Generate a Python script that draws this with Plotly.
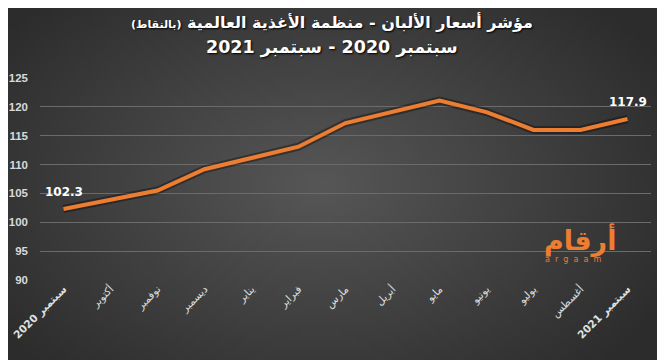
import base64, struct, zlib
import numpy as np
import plotly.graph_objects as go

months = ["<b>سبتمبر 2020</b>", "أكتوبر", "نوفمبر", "ديسمبر", "يناير", "فبراير", "مارس",
          "أبريل", "مايو", "يونيو", "يوليو", "أغسطس", "<b>سبتمبر 2021</b>"]
values = [102.3, 103.9, 105.5, 109.2, 111.1, 113.1, 117.2, 119.1, 121.1, 119.1, 116.0, 116.0, 117.9]
labeled = [0, 12]
y_ticks = [90, 95, 100, 105, 110, 115, 120, 125]

W, H = 665, 360
OFF = 8  # page offset of the figure inside the browser window
ML, MT = 40 - OFF, 78 - OFF
MR, MB = W - (651 - OFF), H - (280 - OFF)
PW, PH = W - ML - MR, H - MT - MB


def px_x(sx):
    return (sx - OFF - ML) / PW


def px_y(sy):
    return 1 - (sy - OFF - MT) / PH


def make_bg(w=133, h=72):
    ys, xs = np.mgrid[0:h, 0:w]
    px = (xs + 0.5) * W / w + OFF
    py = (ys + 0.5) * H / h + OFF
    t = np.sqrt(((px - 320) / 400) ** 2 + ((py - 185) / 260) ** 2)
    t = np.clip(t, 0, 1)
    c = (0x57 + (0x2c - 0x57) * t).astype(np.uint8)
    raw = b"".join(b"\x00" + bytes(np.repeat(row, 3)) for row in c)

    def chunk(tag, data):
        return struct.pack(">I", len(data)) + tag + data + struct.pack(">I", zlib.crc32(tag + data) & 0xffffffff)

    png = b"\x89PNG\r\n\x1a\n" + chunk(b"IHDR", struct.pack(">IIBBBBB", w, h, 8, 2, 0, 0, 0)) \
        + chunk(b"IDAT", zlib.compress(raw, 9)) + chunk(b"IEND", b"")
    return "data:image/png;base64," + base64.b64encode(png).decode()


x = list(range(len(months)))
fig = go.Figure()
fig.add_trace(go.Scatter(x=x, y=values, mode="lines", line=dict(color="rgba(0,0,0,0.35)", width=8),
                         hoverinfo="skip", showlegend=False, cliponaxis=False))
fig.add_trace(go.Scatter(x=x, y=values, mode="lines",
                         line=dict(color="#ED7D31", width=4), showlegend=False, cliponaxis=False))

annotations = [
    dict(text="مؤشر أسعار الألبان - منظمة الأغذية العالمية <span style='font-size:11px'>(بالنقاط)</span>",
         xref="paper", yref="paper", x=px_x(332), y=px_y(22), showarrow=False,
         xanchor="center", yanchor="middle",
         font=dict(family="DejaVu Sans", size=16, color="white", weight="bold",
                   shadow="1px 1px 2px black")),
    dict(text="سبتمبر 2020 - سبتمبر 2021",
         xref="paper", yref="paper", x=px_x(332), y=px_y(47), showarrow=False,
         xanchor="center", yanchor="middle",
         font=dict(family="DejaVu Sans", size=17.5, color="white", weight="bold",
                   shadow="1px 1px 2px black")),
    dict(text="أرقام", xref="paper", yref="paper", x=px_x(580), y=px_y(240),
         showarrow=False, xanchor="center", yanchor="middle",
         font=dict(family="DejaVu Sans", size=27, color="#ED7D31", weight="bold")),
    dict(text="a  r  g  a  a  m", xref="paper", yref="paper", x=px_x(573), y=px_y(259),
         showarrow=False, xanchor="center", yanchor="middle",
         font=dict(family="DejaVu Sans", size=8, color="#ED7D31")),
]
for i in labeled:
    annotations.append(dict(text=f"{values[i]:.1f}", x=x[i], y=values[i], xref="x", yref="y",
                            showarrow=False, yshift=17, xanchor="center", yanchor="middle",
                            font=dict(family="DejaVu Sans", size=12, color="white", weight="bold")))

fig.update_layout(
    width=W, height=H, margin=dict(l=ML, r=MR, t=MT, b=MB, autoexpand=False),
    paper_bgcolor="#3a3a3a", plot_bgcolor="rgba(0,0,0,0)",
    font=dict(family="DejaVu Sans", color="#d9d9d9"),
    xaxis=dict(tickmode="array", tickvals=x, ticktext=months, tickangle=-45, range=[-0.5, 12.5],
               showgrid=False, zeroline=False, showline=False, ticks="", automargin=False,
               ticklabeloverflow="allow",
               tickfont=dict(size=10.5, color="#e0e0e0", family="DejaVu Sans")),
    yaxis=dict(range=[90, 125], tickvals=y_ticks, showgrid=True, gridcolor="#6b6b6b", gridwidth=1,
               zeroline=False, showline=False, ticks="", ticklabelstandoff=11, automargin=False,
               ticklabeloverflow="allow",
               tickfont=dict(size=11.5, color="#d9d9d9", family="Liberation Sans", weight="bold")),
    images=[dict(source=make_bg(), xref="paper", yref="paper", x=-ML / PW, y=1 + MT / PH,
                 sizex=W / PW, sizey=H / PH, sizing="stretch", layer="below")],
    annotations=annotations,
)

fig.write_html("out.html")
